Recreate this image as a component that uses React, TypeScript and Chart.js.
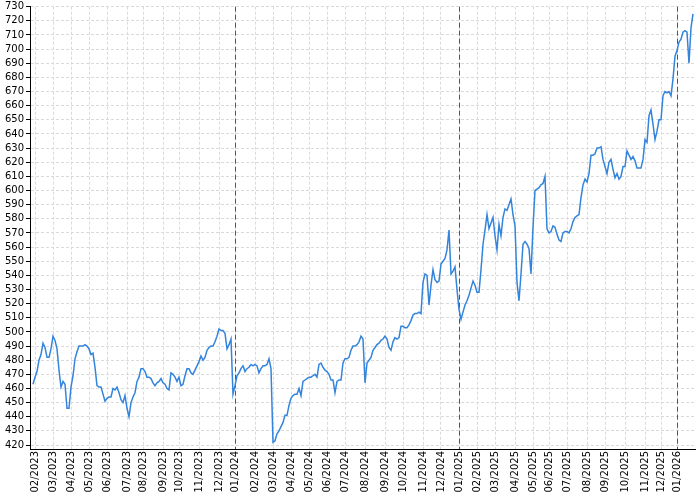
import { useEffect, useRef } from 'react';
import { Chart, registerables } from 'chart.js';

Chart.register(...registerables);

// Month labels (first month is a partial month, not ticked)
const monthLabels = [
  '01/2023', '02/2023', '03/2023', '04/2023', '05/2023', '06/2023', '07/2023', '08/2023', '09/2023', '10/2023', '11/2023', '12/2023',
  '01/2024', '02/2024', '03/2024', '04/2024', '05/2024', '06/2024', '07/2024', '08/2024', '09/2024', '10/2024', '11/2024', '12/2024',
  '01/2025', '02/2025', '03/2025', '04/2025', '05/2025', '06/2025', '07/2025', '08/2025', '09/2025', '10/2025', '11/2025', '12/2025',
  '01/2026',
];

// Series values, one small list per month
const values2023 = [
  [463],
  [468, 472, 480, 484, 492, 489, 482, 482, 488],
  [497, 494, 488, 473, 461, 465, 463, 446, 446],
  [461, 469, 481, 486, 490, 490, 490, 491, 490],
  [488, 484, 485, 475, 462, 461, 461, 456, 451],
  [453, 454, 454, 460, 459, 461, 457, 452, 450, 455],
  [446, 440, 450, 454, 457, 465, 468, 474],
  [474, 472, 468, 468, 467, 464, 462, 464, 465, 467],
  [464, 463, 460, 459, 471, 470, 468, 465],
  [468, 462, 463, 469, 474, 474, 471, 470, 473, 476],
  [479, 483, 480, 482, 487, 489, 490, 490, 493, 497],
  [502, 501, 501, 499, 488, 491, 495, 456],
];
const values2024 = [
  [462, 469, 471, 474, 476, 472, 474, 475, 477, 476],
  [477, 476, 471, 474, 476, 476, 477, 481, 474],
  [422, 423, 428, 430, 433, 436, 441, 441, 448],
  [453, 455, 456, 456, 460, 455, 465, 466, 467],
  [468, 468, 469, 470, 468, 477, 478, 475, 473],
  [472, 470, 466, 466, 457, 465, 466, 466, 478],
  [481, 481, 482, 487, 490, 490, 491, 493, 497, 495],
  [464, 478, 480, 482, 487, 489, 491, 492, 494, 495],
  [497, 495, 489, 487, 493, 496, 495, 496, 504],
  [504, 503, 503, 505, 508, 512, 513, 513, 514, 513],
  [535, 541, 540, 519, 533, 544, 537, 535, 536],
  [548, 550, 552, 558, 572, 541, 543, 546, 530],
];
const values2025 = [
  [516, 509, 514, 519, 522, 526, 531, 536, 533],
  [528, 528, 544, 562, 572, 583, 573, 577, 581],
  [568, 558, 576, 568, 581, 587, 586, 590, 594, 583],
  [575, 535, 522, 541, 562, 564, 562, 559, 541],
  [574, 600, 601, 602, 604, 605, 610, 573],
  [570, 571, 575, 574, 569, 565, 564, 570, 571],
  [571, 570, 573, 578, 581, 582, 583, 595, 604, 608],
  [606, 612, 625, 625, 626, 630, 630, 631, 622],
  [617, 612, 620, 622, 615, 609, 612, 608, 610, 617],
  [617, 628, 625, 622, 624, 621, 616, 616, 616, 622],
  [636, 634, 653, 657, 647, 636, 642, 650],
  [650, 667, 670, 669, 670, 667, 679, 695],
];
const values2026 = [
  [699, 705, 707, 712, 713, 712, 690, 715, 725],
];

const yTickValues = [
  420, 430, 440, 450, 460, 470, 480, 490, 500, 510, 520, 530, 540, 550, 560, 570, 580, 590,
  600, 610, 620, 630, 640, 650, 660, 670, 680, 690, 700, 710, 720, 730,
];
const yearStartLabels = ['01/2024', '01/2025', '01/2026'];

export default function App() {
  const canvasRef = useRef<HTMLCanvasElement | null>(null);

  useEffect(() => {
    document.body.style.margin = '0';
    const canvas = canvasRef.current;
    if (!canvas) return;

    const monthValues = [...values2023, ...values2024, ...values2025, ...values2026];
    const points: { x: number; y: number }[] = [];
    const monthStart: Record<string, number> = {};
    let idx = 0;
    monthValues.forEach((vals, m) => {
      monthStart[monthLabels[m]] = idx;
      vals.forEach((v) => {
        points.push({ x: idx, y: v });
        idx++;
      });
    });
    const tickedLabels = monthLabels.slice(1);
    const tickIdx = tickedLabels.map((l) => monthStart[l]);
    const labelAt: Record<number, string> = {};
    tickedLabels.forEach((l) => {
      labelAt[monthStart[l]] = l;
    });

    const yearLines = {
      id: 'yearLines',
      beforeDatasetsDraw(chart: any) {
        const { ctx, chartArea, scales } = chart;
        const xs = scales.x;
        ctx.save();
        ctx.strokeStyle = '#555555';
        ctx.lineWidth = 1;
        ctx.setLineDash([5, 3]);
        yearStartLabels.forEach((l) => {
          const px = Math.round(xs.getPixelForValue(monthStart[l])) + 0.5;
          ctx.beginPath();
          ctx.moveTo(px, chartArea.top);
          ctx.lineTo(px, chartArea.bottom);
          ctx.stroke();
        });
        ctx.restore();
      },
    };

    const font = { family: 'DejaVu Sans', size: 10, lineHeight: 0.94 };

    const chart = new Chart(canvas, {
      type: 'line',
      data: {
        datasets: [
          {
            data: points,
            borderColor: '#3384dc',
            borderWidth: 1.5,
            pointRadius: 0,
            tension: 0,
            fill: false,
          },
        ],
      },
      options: {
        animation: false,
        responsive: false,
        events: [],
        layout: { padding: { top: 0, right: 5, left: 0, bottom: 0 } },
        plugins: { legend: { display: false }, tooltip: { enabled: false }, title: { display: false } },
        scales: {
          x: {
            type: 'linear',
            min: -1.5,
            max: 331,
            afterBuildTicks: (s: any) => {
              s.ticks = tickIdx.map((v) => ({ value: v }));
            },
            afterFit: (s: any) => {
              s.height = 51;
            },
            ticks: {
              autoSkip: false,
              minRotation: 90,
              maxRotation: 90,
              padding: 2,
              color: '#000000',
              font,
              callback: (v: any) => labelAt[Number(v)] ?? '',
            },
            grid: {
              color: '#dadada',
              lineWidth: 1,
              drawTicks: false,
            },
            border: { display: true, color: '#000000', width: 1, dash: [3, 2] },
          },
          y: {
            type: 'linear',
            min: 417.2,
            max: 730,
            afterBuildTicks: (s: any) => {
              s.ticks = yTickValues.map((v) => ({ value: v }));
            },
            afterFit: (s: any) => {
              s.width = 30;
            },
            ticks: {
              autoSkip: false,
              padding: 2,
              color: '#000000',
              font,
            },
            grid: {
              color: '#dadada',
              lineWidth: 1,
              drawTicks: true,
              tickLength: 4,
              tickColor: '#000000',
              tickWidth: 1,
            },
            border: { display: true, color: '#000000', width: 1, dash: [3, 2] },
          },
        },
      },
      plugins: [yearLines],
    });

    return () => {
      chart.destroy();
    };
  }, []);

  return (
    <div style={{ width: 700, height: 500 }}>
      <canvas ref={canvasRef} width={700} height={500} style={{ display: 'block' }} />
    </div>
  );
}
